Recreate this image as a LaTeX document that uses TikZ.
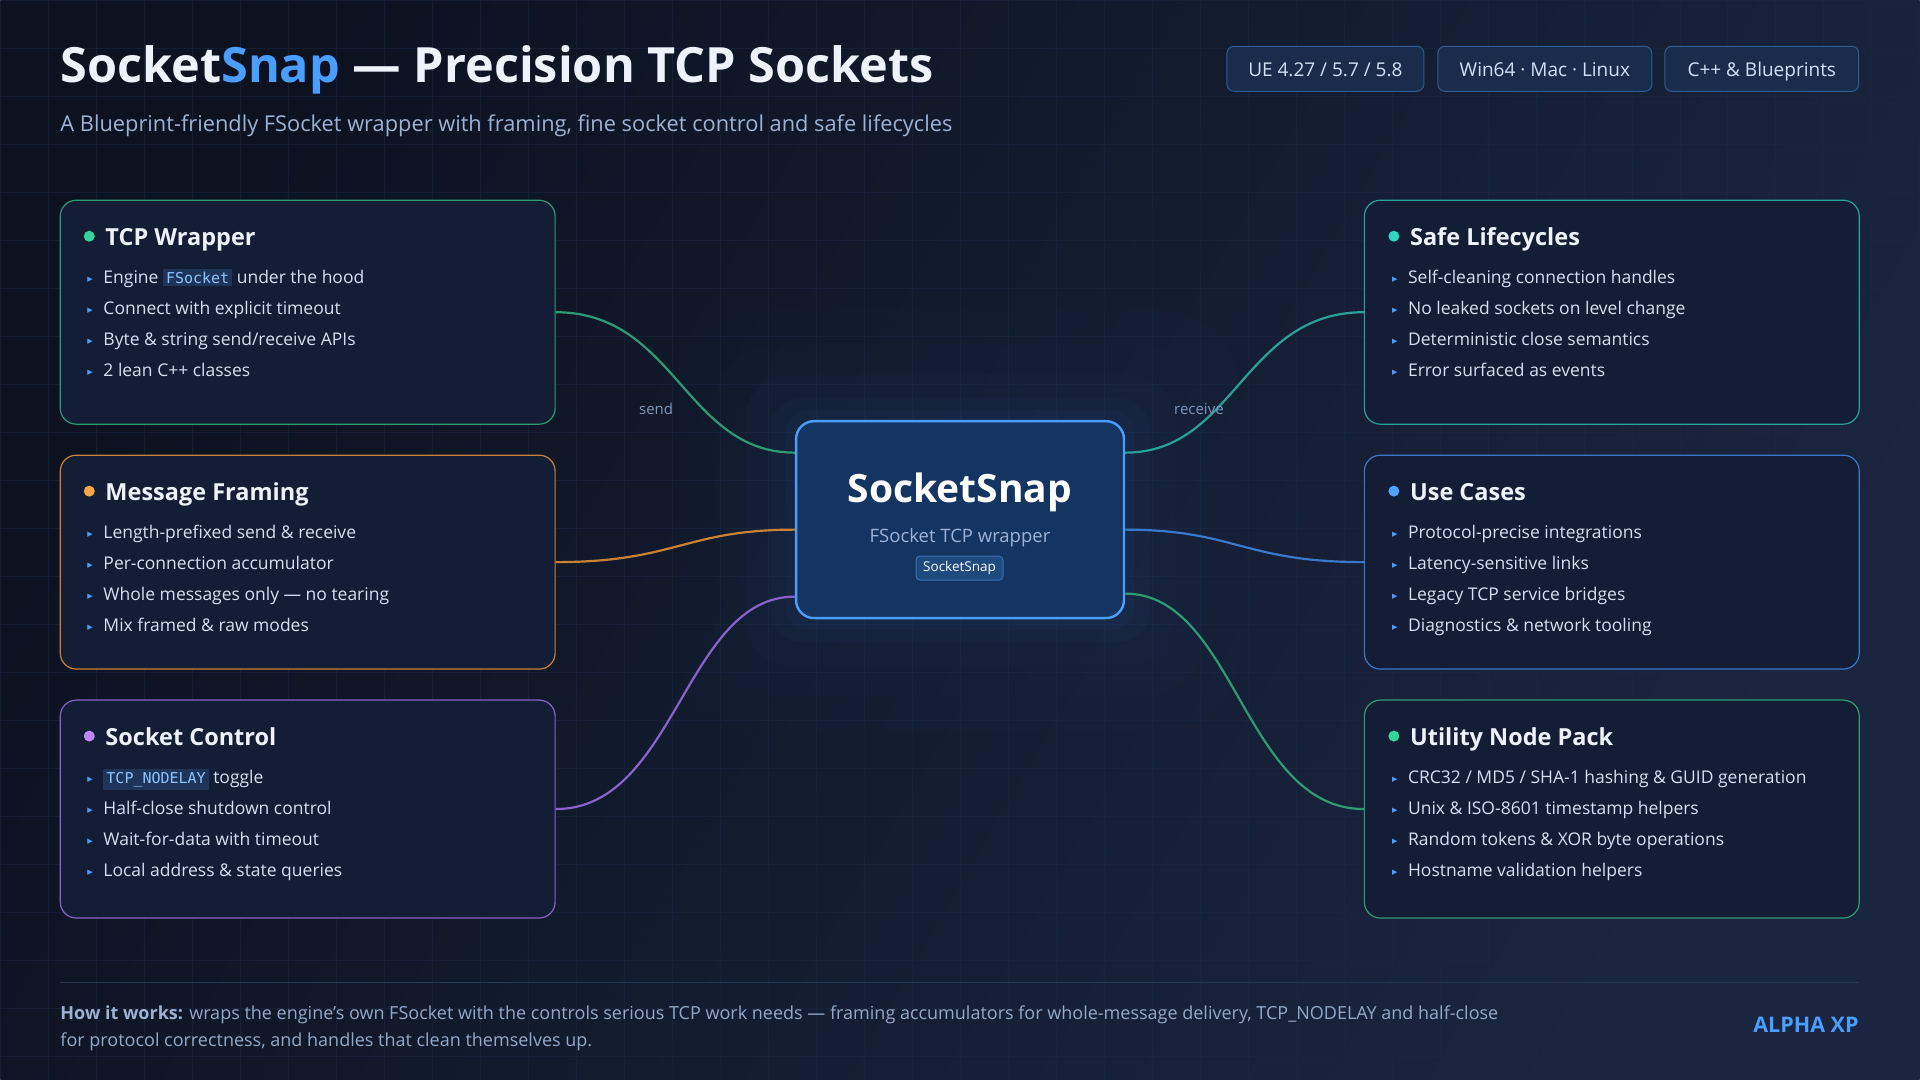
\documentclass[tikz,border=0pt]{standalone}
\usepackage{fontspec}
\setmainfont{Open Sans}
\newfontfamily\codefont{DejaVu Sans Mono}
\newfontfamily\symfont{DejaVu Sans}
\usetikzlibrary{positioning,calc}

\definecolor{bgA}{HTML}{0C1220}
\definecolor{bgB}{HTML}{1A2540}
\definecolor{gridc}{HTML}{1B2843}
\definecolor{cardfill}{HTML}{131D35}
\definecolor{chipfill}{HTML}{1E3458}
\definecolor{codeblue}{HTML}{8CC4FF}
\definecolor{textc}{HTML}{D5E0F0}
\definecolor{titlec}{HTML}{EEF3FB}
\definecolor{subc}{HTML}{9CB3D6}
\definecolor{tickblue}{HTML}{4A9EFF}
\definecolor{accent}{HTML}{4A9EFF}
\definecolor{labelc}{HTML}{7C97BE}
\definecolor{footc}{HTML}{93A9C9}
\definecolor{rulec}{HTML}{263754}
\definecolor{badgefill}{HTML}{1A2C4C}
\definecolor{badgeline}{HTML}{2F5B93}
\definecolor{badgetext}{HTML}{D0E1F7}
\definecolor{hubfill}{HTML}{143461}
\definecolor{hubglow}{HTML}{2A4E86}
\definecolor{hubchip}{HTML}{1F4A80}
\definecolor{hubchipline}{HTML}{3B70B0}
\definecolor{dotgreen}{HTML}{34D399}
\definecolor{dotorange}{HTML}{F6A848}
\definecolor{dotpurple}{HTML}{C084FC}
\definecolor{dotteal}{HTML}{2DD4BF}
\definecolor{dotblue}{HTML}{4FA3FF}
\definecolor{greenline}{HTML}{2E9B74}
\definecolor{orangeline}{HTML}{C98236}
\definecolor{purpleline}{HTML}{8A62CC}
\definecolor{tealline}{HTML}{2AA19A}
\definecolor{blueline}{HTML}{3A78C9}

\newcommand\fsz[1]{\fontsize{#1}{#1}\selectfont}
\newcommand\tick{\makebox[16pt][l]{\textcolor{tickblue}{\symfont\fsz{7}\raisebox{2pt}{▶}}}}
\newcommand\chip[1]{{\setlength\fboxsep{3pt}\colorbox{chipfill}{\codefont\fsz{15}\textcolor{codeblue}{#1}}}}

\tikzset{
  card/.style={draw=#1, line width=1.2pt, fill=cardfill, rounded corners=16pt,
    minimum width=495pt, inner sep=0pt},
  cardtitle/.style={anchor=base west, text=titlec, font=\bfseries\fsz{23.5}, inner sep=0pt},
  item/.style={anchor=base west, text=textc, font=\fsz{17.5}, inner sep=0pt},
  dot/.style={circle, fill=#1, minimum size=11pt, inner sep=0pt},
  link/.style={draw=#1, line width=2.2pt},
  badge/.style={draw=badgeline, fill=badgefill, rounded corners=7pt, line width=1pt,
    text=badgetext, font=\fsz{19}, minimum height=45pt, inner sep=0pt,
    text height=16pt, text depth=0pt},
}

\begin{document}
\begin{tikzpicture}[x=1pt,y=-1pt]
% background
\shade[left color=bgA, right color=bgB, shading angle=60] (0,0) rectangle (1920,1080);
\draw[gridc, opacity=0.55, line width=0.6pt, step=48pt] (0,0) grid (1920,1080);
\useasboundingbox (0,0) rectangle (1920,1080);

% heading
\node[anchor=base west, inner sep=0pt, text=titlec, font=\bfseries\fsz{48.6}] (title) at (60,82)
  {Socket\textcolor{accent}{Snap} — Precision TCP Sockets};
\node[anchor=base west, inner sep=0pt, text=subc, font=\fsz{21.8}] (subtitle) at (60,131)
  {A Blueprint-friendly FSocket wrapper with framing, fine socket control and safe lifecycles};

% badges
\node[badge, minimum width=197pt] (engine) at (1325.5,68.5) {UE 4.27 / 5.7 / 5.8};
\node[badge, minimum width=214pt] (platforms) at (1545,68.5) {Win64 · Mac · Linux};
\node[badge, minimum width=194pt] (langs) at (1762,68.5) {C++ \& Blueprints};

% glow behind the hub
\fill[hubglow, opacity=0.03, rounded corners=80pt] (680,310) rectangle (1240,730);
\fill[hubglow, opacity=0.04, rounded corners=60pt] (715,345) rectangle (1205,695);
\fill[hubglow, opacity=0.05, rounded corners=45pt] (745,375) rectangle (1175,665);
\fill[hubglow, opacity=0.07, rounded corners=32pt] (770,398) rectangle (1150,642);
\fill[hubglow, opacity=0.09, rounded corners=24pt] (785,410) rectangle (1135,630);

% connectors
\node[card=greenline, minimum height=224pt] (wrap) at (307.5,312) {};
\node[card=orangeline, minimum height=214pt] (framing) at (307.5,562) {};
\node[card=purpleline, minimum height=218pt] (control) at (307.5,809) {};
\node[card=tealline, minimum height=224pt] (lifecycle) at (1612,312) {};
\node[card=blueline, minimum height=214pt] (usecases) at (1612,562) {};
\node[card=greenline, minimum height=218pt] (utility) at (1612,809) {};
\node[draw=accent, line width=2.4pt, fill=hubfill, rounded corners=18pt,
  minimum width=328pt, minimum height=197pt] (hub) at (960,519.5) {};

\draw[link=greenline] (wrap.east) .. controls +(120,0) and +(-110,0) .. ([yshift=67pt]hub.west);
\draw[link=orangeline] (framing.east) .. controls +(120,0) and +(-110,0) .. ([yshift=-10pt]hub.west);
\draw[link=purpleline] (control.east) .. controls +(120,0) and +(-110,0) .. ([yshift=-77pt]hub.west);
\draw[link=tealline] ([yshift=67pt]hub.east) .. controls +(110,0) and +(-120,0) .. (lifecycle.west);
\draw[link=blueline] ([yshift=-10pt]hub.east) .. controls +(110,0) and +(-120,0) .. (usecases.west);
\draw[link=greenline] ([yshift=-74pt]hub.east) .. controls +(110,0) and +(-120,0) .. (utility.west);
\node[text=labelc, font=\fsz{15}] (sendlbl) at (656,409) {send};
\node[text=labelc, font=\fsz{15}] (recvlbl) at (1199,409) {receive};

% hub text
\node[anchor=base, inner sep=0pt, text=white, font=\bfseries\fsz{39}] (hubname) at (960,502) {SocketSnap};
\node[anchor=base, inner sep=0pt, text=subc, font=\fsz{18.5}] (hubsub) at (960,542) {FSocket TCP wrapper};
\node[draw=hubchipline, fill=hubchip, rounded corners=4pt, line width=1pt, text=white,
  font=\fsz{13.5}, minimum width=87pt, minimum height=24pt, inner sep=0pt] (hubchip) at (959.5,568) {SocketSnap};

% TCP Wrapper
\node[dot=dotgreen] (wrapdot) at (89,236) {};
\node[cardtitle] (wraptitle) at (105,245) {TCP Wrapper};
\node[item] (wrap1) at (87,283) {\tick Engine \chip{FSocket} under the hood};
\node[item] (wrap2) at (87,314) {\tick Connect with explicit timeout};
\node[item] (wrap3) at (87,345) {\tick Byte \& string send/receive APIs};
\node[item] (wrap4) at (87,376) {\tick 2 lean C++ classes};

% Message Framing
\node[dot=dotorange] (framingdot) at (89,491) {};
\node[cardtitle] (framingtitle) at (105,500) {Message Framing};
\node[item] (framing1) at (87,538) {\tick Length-prefixed send \& receive};
\node[item] (framing2) at (87,569) {\tick Per-connection accumulator};
\node[item] (framing3) at (87,600) {\tick Whole messages only — no tearing};
\node[item] (framing4) at (87,631) {\tick Mix framed \& raw modes};

% Socket Control
\node[dot=dotpurple] (controldot) at (89,736) {};
\node[cardtitle] (controltitle) at (105,745) {Socket Control};
\node[item] (control1) at (87,783) {\tick \chip{TCP\_NODELAY} toggle};
\node[item] (control2) at (87,814) {\tick Half-close shutdown control};
\node[item] (control3) at (87,845) {\tick Wait-for-data with timeout};
\node[item] (control4) at (87,876) {\tick Local address \& state queries};

% Safe Lifecycles
\node[dot=dotteal] (lifecycledot) at (1394,236) {};
\node[cardtitle] (lifecycletitle) at (1410,245) {Safe Lifecycles};
\node[item] (lifecycle1) at (1392,283) {\tick Self-cleaning connection handles};
\node[item] (lifecycle2) at (1392,314) {\tick No leaked sockets on level change};
\node[item] (lifecycle3) at (1392,345) {\tick Deterministic close semantics};
\node[item] (lifecycle4) at (1392,376) {\tick Error surfaced as events};

% Use Cases
\node[dot=dotblue] (usecasesdot) at (1394,491) {};
\node[cardtitle] (usecasestitle) at (1410,500) {Use Cases};
\node[item] (usecases1) at (1392,538) {\tick Protocol-precise integrations};
\node[item] (usecases2) at (1392,569) {\tick Latency-sensitive links};
\node[item] (usecases3) at (1392,600) {\tick Legacy TCP service bridges};
\node[item] (usecases4) at (1392,631) {\tick Diagnostics \& network tooling};

% Utility Node Pack
\node[dot=dotgreen] (utilitydot) at (1394,736) {};
\node[cardtitle] (utilitytitle) at (1410,745) {Utility Node Pack};
\node[item] (utility1) at (1392,783) {\tick CRC32 / MD5 / SHA-1 hashing \& GUID generation};
\node[item] (utility2) at (1392,814) {\tick Unix \& ISO-8601 timestamp helpers};
\node[item] (utility3) at (1392,845) {\tick Random tokens \& XOR byte operations};
\node[item] (utility4) at (1392,876) {\tick Hostname validation helpers};

% footer
\draw[rulec, line width=1pt] (60,982) -- (1859,982);
\node[anchor=base west, inner sep=0pt, text=footc, font=\fsz{18}] (foot1) at (60,1020)
  {\textbf{\textcolor{subc}{How it works:}} wraps the engine's own FSocket with the controls serious TCP work needs — framing accumulators for whole-message delivery, TCP\_NODELAY and half-close};
\node[anchor=base west, inner sep=0pt, text=footc, font=\fsz{18}] (foot2) at (60,1047)
  {for protocol correctness, and handles that clean themselves up.};
\node[anchor=base east, inner sep=0pt, text=accent, font=\bfseries\fsz{21.5}] (brand) at (1859,1033) {ALPHA XP};
\end{tikzpicture}
\end{document}
